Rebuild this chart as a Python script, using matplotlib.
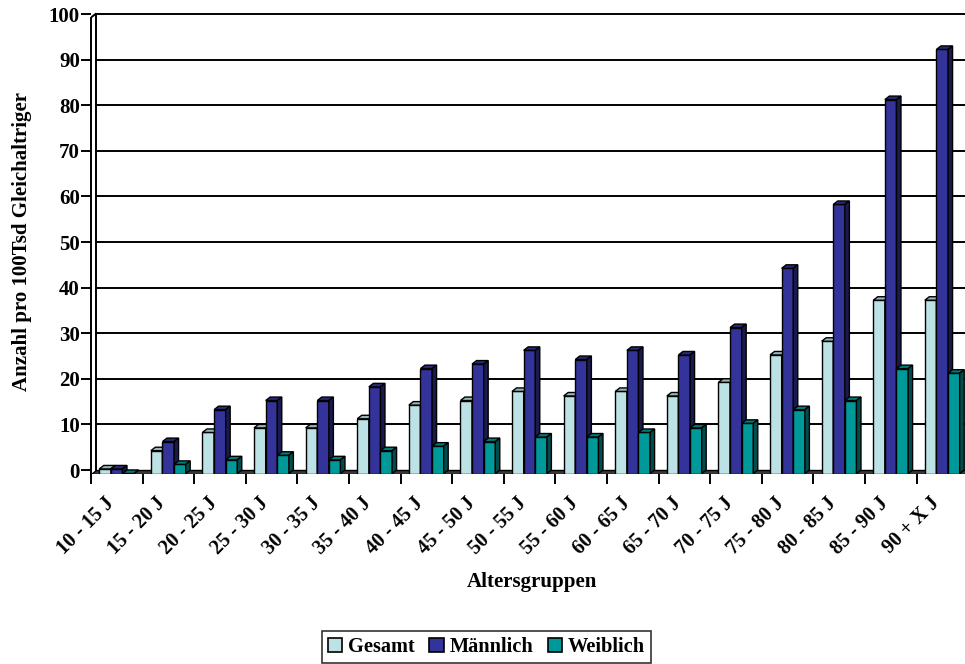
import numpy as np
import matplotlib
matplotlib.use("Agg")
import matplotlib.pyplot as plt
from matplotlib.patches import Polygon, Patch

# Altersgruppen und Raten pro 100 Tsd Gleichaltriger
gruppen = ["10 - 15 J", "15 - 20 J", "20 - 25 J", "25 - 30 J", "30 - 35 J",
           "35 - 40 J", "40 - 45 J", "45 - 50 J", "50 - 55 J", "55 - 60 J",
           "60 - 65 J", "65 - 70 J", "70 - 75 J", "75 - 80 J", "80 - 85 J",
           "85 - 90 J", "90 + X J"]
gesamt = [1, 5, 9, 10, 10, 12, 15, 16, 18, 17, 18, 17, 20, 26, 29, 38, 38]
maennlich = [1, 7, 14, 16, 16, 19, 23, 24, 27, 25, 27, 26, 32, 45, 59, 82, 93]
weiblich = [0, 2, 3, 4, 3, 5, 6, 7, 8, 8, 9, 10, 11, 14, 16, 23, 22]

serien = [("Gesamt", gesamt, "#BDE2E5"),
          ("Männlich", maennlich, "#333399"),
          ("Weiblich", weiblich, "#009999")]

plt.rcParams["font.family"] = ["Liberation Serif", "DejaVu Serif"]
plt.rcParams["font.weight"] = "bold"

W, H = 965, 664
fig = plt.figure(figsize=(W / 100, H / 100), dpi=100)

# Pixel-Geometrie des Diagramms
cat_px = 51.6          # Breite einer Kategorie
x0_px = 91             # linke Wand
zero_px = 470          # Gitterlinie 0
unit_px = 4.56         # Pixel pro Einheit
dx = 4.5 / cat_px      # Tiefe in x
dy = 3.5 / unit_px     # Tiefe in y
xmax = (W - x0_px) / cat_px
ytop = 100.4

bottom_px = zero_px + dy * unit_px
top_px = zero_px - ytop * unit_px
ax = fig.add_axes([x0_px / W, 1 - bottom_px / H,
                   (W - x0_px) / W, (bottom_px - top_px) / H])
ax.set_xlim(0, xmax)
ax.set_ylim(-dy, ytop)

# Rückwand: Gitterlinien und Wandkante
werte = np.arange(10, 101, 10)
ax.hlines(werte, dx, xmax, color="black", lw=1.4, zorder=1)
ax.plot([dx, dx], [0, 100], color="black", lw=1.4, zorder=1)
ax.plot([0, dx], [100 - dy, 100], color="black", lw=1.4, zorder=1)

# Boden
ax.add_patch(Polygon([(0, -dy), (xmax + 1, -dy), (xmax + 1, 0), (dx, 0)],
                     closed=True, facecolor="#3a3a3a", edgecolor="black",
                     lw=1.0, zorder=2))

breite = 0.225
offsets = [0.16, 0.385, 0.61]
x = np.arange(len(gruppen))


def schatten(farbe, f):
    r, g, b = matplotlib.colors.to_rgb(farbe)
    return (r * f, g * f, b * f)


for k, (name, vals, farbe) in enumerate(serien):
    xs = x + offsets[k]
    z = 3 + k
    ax.bar(xs, vals, width=breite, bottom=-dy, align="edge", color=farbe,
           edgecolor="black", linewidth=1.0, zorder=z)
    for xl, v in zip(xs, vals):
        top = [(xl, v - dy), (xl + breite, v - dy),
               (xl + breite + dx, v), (xl + dx, v)]
        side = [(xl + breite, -dy), (xl + breite + dx, 0),
                (xl + breite + dx, v), (xl + breite, v - dy)]
        ax.add_patch(Polygon(top, closed=True, facecolor=schatten(farbe, 0.8),
                             edgecolor="black", lw=1.0, zorder=z))
        ax.add_patch(Polygon(side, closed=True, facecolor=schatten(farbe, 0.5),
                             edgecolor="black", lw=1.0, zorder=z))

for s in ["top", "right", "bottom"]:
    ax.spines[s].set_visible(False)
ax.spines["left"].set_bounds(-dy, 100 - dy)
ax.spines["left"].set_linewidth(1.4)

ax.set_yticks(np.arange(0, 101, 10))
ax.tick_params(axis="y", length=7, width=1.4, labelsize=15, pad=1)
ax.set_xticks(np.arange(len(gruppen)))
ax.set_xticklabels([])
ax.tick_params(axis="x", length=7, width=1.4)

for i, lab in enumerate(gruppen):
    ax.annotate(lab, xy=(i + 0.5, 0), xycoords=("data", "axes fraction"),
                xytext=(-6, -27), textcoords="offset pixels",
                rotation=45, rotation_mode="anchor", ha="right", va="center",
                fontsize=14.5, fontweight="bold", annotation_clip=False)

fig.text(22 / W, 1 - 241 / H, "Anzahl pro 100Tsd Gleichaltriger",
         rotation=90, ha="center", va="center", fontsize=15)
fig.text(531.5 / W, 1 - 582 / H, "Altersgruppen",
         ha="center", va="center", fontsize=15)

handles = [Patch(facecolor=c, edgecolor="black", linewidth=1.2, label=n)
           for n, _, c in serien]
leg = fig.legend(handles=handles, loc="center", ncol=3,
                 bbox_to_anchor=(486.5 / W, 1 - 647 / H),
                 fontsize=14.7, frameon=True, fancybox=False,
                 handlelength=0.7, handleheight=0.7, handletextpad=0.3,
                 columnspacing=0.7, borderpad=0.3, borderaxespad=0)
leg.get_frame().set_edgecolor("black")
leg.get_frame().set_linewidth(1.2)

fig.savefig("out.png", dpi=100)
